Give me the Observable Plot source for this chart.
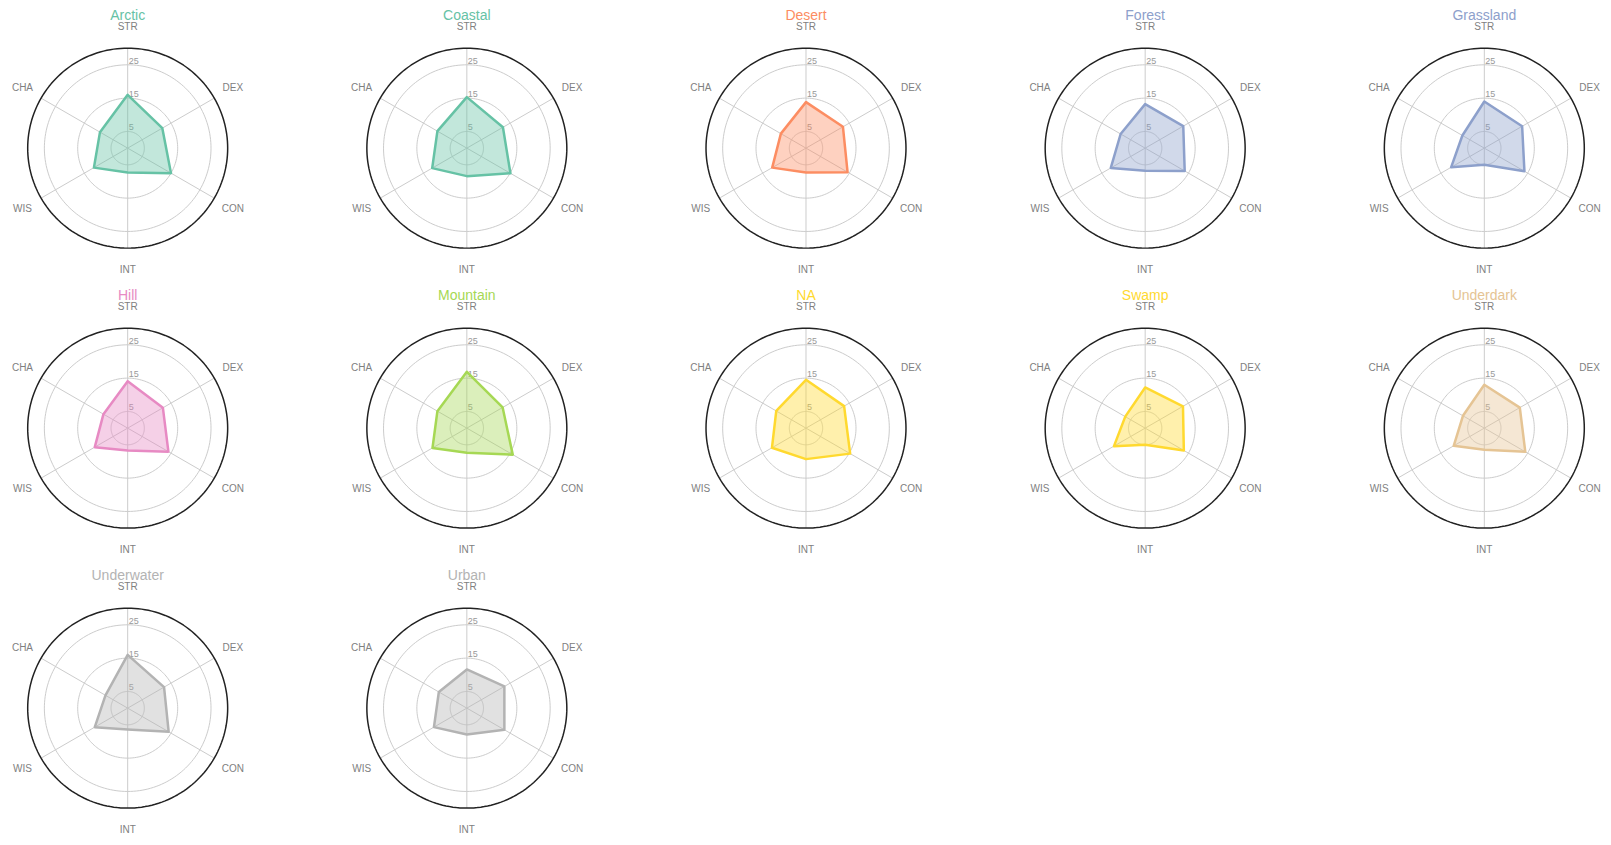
<!DOCTYPE html>
<html>
<head>
<meta charset="utf-8">
<script src="https://cdn.jsdelivr.net/npm/d3@7"></script>
<script src="https://cdn.jsdelivr.net/npm/@observablehq/plot@0.6"></script>
<style>
  html, body { margin: 0; padding: 0; background: #fff; }
  #chart svg { display: block; }
</style>
</head>
<body>
<div id="chart"></div>
<script>
// ---- data ----
const regions = ["Arctic", "Coastal", "Desert", "Forest", "Grassland", "Hill", "Mountain", "NA", "Swamp", "Underdark", "Underwater", "Urban"];
const stats = ["STR", "DEX", "CON", "INT", "WIS", "CHA"];
const STR = [16.0, 15.3, 13.8, 13.2, 14.0, 14.1, 16.9, 14.5, 12.2, 13.0, 16.0, 11.6];
const DEX = [12.0, 12.5, 12.8, 13.2, 13.1, 12.2, 12.4, 13.2, 13.1, 12.3, 12.6, 13.0];
const CON = [15.0, 15.1, 14.4, 13.7, 13.9, 14.1, 15.9, 15.3, 13.4, 14.2, 14.2, 13.0];
const INT = [7.3, 8.4, 7.3, 6.8, 5.0, 6.7, 7.4, 9.3, 5.0, 6.5, 6.4, 7.9];
const WIS = [11.7, 12.0, 11.7, 11.9, 11.5, 11.4, 11.9, 11.8, 10.8, 10.6, 11.4, 11.4];
const CHA = [9.6, 10.2, 8.7, 8.5, 7.6, 8.4, 10.2, 10.3, 6.9, 7.4, 7.7, 9.7];
const ringTicks = [5, 15, 25];
const maxValue = 30;

// ---- styles ----
const palette = ["#66c2a5", "#66c2a5", "#fc8d62", "#8da0cb", "#8da0cb", "#e78ac3", "#a6d854", "#ffd92f", "#ffd92f", "#e5c494", "#b3b3b3", "#b3b3b3"];
const cols = 5;
const labelRadius = 36.45;   // in value units
const extent = 38.16;        // half-width of each cell in value units

// ---- derived tables ----
const series = {STR, DEX, CON, INT, WIS, CHA};
const angleOf = j => j * 2 * Math.PI / stats.length;
const cells = regions.map((region, i) => ({region, col: i % cols, row: Math.floor(i / cols)}));

const points = cells.flatMap((c, i) => stats.map((s, j) => ({...c, stat: s, value: series[s][i], a: angleOf(j)})));
const spokes = cells.flatMap(c => stats.map((s, j) => ({...c, stat: s, a: angleOf(j)})));
const axisLabels = spokes;
const ringSteps = d3.range(0, 360, 2).map(d => d * Math.PI / 180);
const rings = cells.flatMap(c => ringTicks.flatMap(v => ringSteps.map(a => ({...c, v, a, key: c.region + "-" + v}))));
const outer = cells.flatMap(c => ringSteps.map(a => ({...c, v: maxValue, a})));
const tickLabels = cells.flatMap(c => ringTicks.map(v => ({...c, v})));

const px = d => d.v * Math.sin(d.a);
const py = d => d.v * Math.cos(d.a);

const chart = Plot.plot({
  width: 1611,
  height: 845,
  margin: 0,
  style: {fontFamily: "'Liberation Sans', Arial, sans-serif", background: "#fff"},
  fx: {domain: d3.range(cols), axis: null, paddingInner: 0.25, paddingOuter: 0, round: false},
  fy: {domain: [0, 1, 2], axis: null, paddingInner: 0.09154, paddingOuter: 0.0547, align: 0.6677, round: false},
  x: {domain: [-extent, extent], axis: null},
  y: {domain: [-extent, extent], axis: null},
  color: {domain: regions, range: palette},
  marks: [
    // grid rings
    Plot.line(rings, {fx: "col", fy: "row", x: px, y: py, z: "key", curve: "linear-closed", stroke: "#cccccc", strokeWidth: 1}),
    // spokes
    Plot.link(spokes, {fx: "col", fy: "row", x1: 0, y1: 0,
      x2: d => maxValue * Math.sin(d.a), y2: d => maxValue * Math.cos(d.a),
      stroke: "#cccccc", strokeWidth: 1}),
    // outer circle
    Plot.line(outer, {fx: "col", fy: "row", x: px, y: py, z: "region", curve: "linear-closed", stroke: "#222222", strokeWidth: 1.5}),
    // ring tick labels
    Plot.text(tickLabels, {fx: "col", fy: "row", x: 0, y: "v", text: d => String(d.v),
      textAnchor: "start", lineAnchor: "bottom", dx: 1, dy: -1, fontSize: 9, fill: "#999999"}),
    // data polygons
    Plot.line(points, {fx: "col", fy: "row",
      x: d => d.value * Math.sin(d.a), y: d => d.value * Math.cos(d.a),
      z: "region", curve: "linear-closed",
      fill: "region", fillOpacity: 0.4, stroke: "region", strokeWidth: 2.5, strokeLinejoin: "round"}),
    // axis labels
    Plot.text(axisLabels, {fx: "col", fy: "row",
      x: d => labelRadius * Math.sin(d.a), y: d => labelRadius * Math.cos(d.a),
      text: "stat", fontSize: 10, fill: "#808080", lineAnchor: "middle", textAnchor: "middle"}),
    // titles
    Plot.text(cells, {fx: "col", fy: "row", frameAnchor: "top", text: "region",
      fill: "region", fontSize: 14, lineAnchor: "middle", dy: -5})
  ]
});
document.getElementById("chart").appendChild(chart);
</script>
</body>
</html>
